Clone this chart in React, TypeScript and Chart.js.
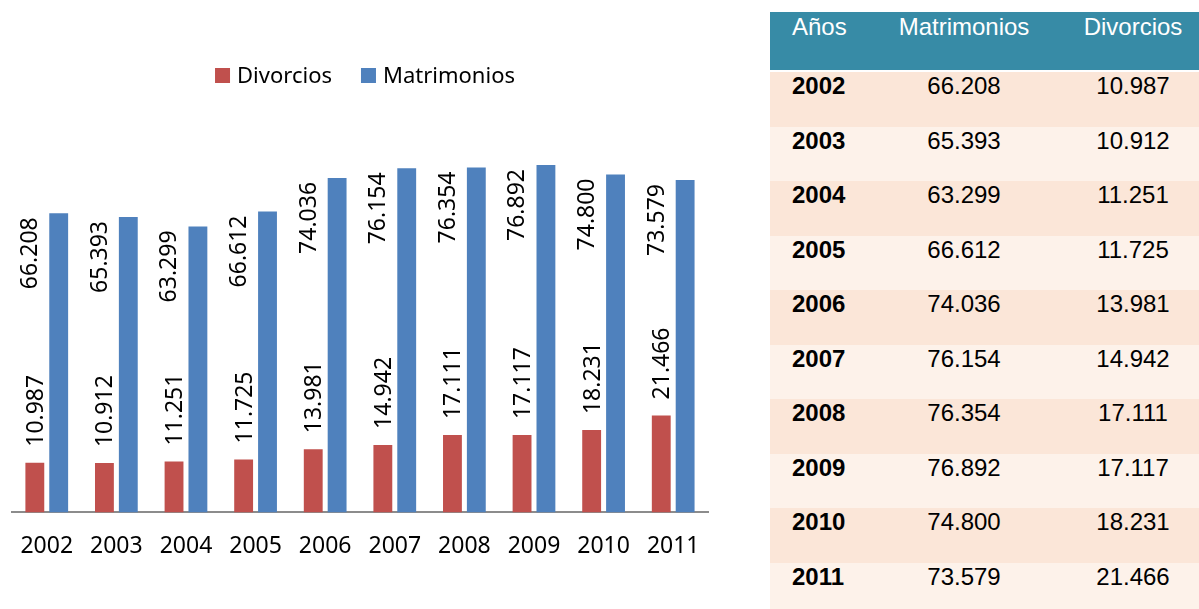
import React, { useEffect, useRef } from "react";
import { Chart, registerables } from "chart.js";

Chart.register(...registerables);

const years = ["2002", "2003", "2004", "2005", "2006", "2007", "2008", "2009", "2010", "2011"];
const divorcios = [10987, 10912, 11251, 11725, 13981, 14942, 17111, 17117, 18231, 21466];
const matrimonios = [66208, 65393, 63299, 66612, 74036, 76154, 76354, 76892, 74800, 73579];
const seriesNames = ["Divorcios", "Matrimonios"];
const seriesColors = ["#C0504D", "#4F81BD"];
const tableHeaders = ["Años", "Matrimonios", "Divorcios"];
const yMax = 80000;

const CHART_FONT = "'Noto Sans', 'Open Sans', sans-serif";
const TABLE_FONT = "'Liberation Sans', Arial, sans-serif";

function fmt(n: number): string {
  return String(n).replace(/\B(?=(\d{3})+(?!\d))/g, ".");
}

const barLabelPlugin = {
  id: "barLabels",
  afterDatasetsDraw(chart: any) {
    const ctx = chart.ctx;
    ctx.save();
    ctx.font = `23px ${CHART_FONT}`;
    ctx.fillStyle = "#000";
    ctx.textBaseline = "middle";
    chart.data.datasets.forEach((ds: any, di: number) => {
      const meta = chart.getDatasetMeta(di);
      meta.data.forEach((el: any, i: number) => {
        const text = fmt(ds.data[i]);
        ctx.save();
        if (di === 0) {
          ctx.translate(el.x + 1.5, el.y - 16);
          ctx.rotate(-Math.PI / 2);
          ctx.textAlign = "left";
        } else {
          ctx.translate(el.x - 28, el.y + 4);
          ctx.rotate(-Math.PI / 2);
          ctx.textAlign = "right";
        }
        ctx.fillText(text, 0, 0);
        ctx.restore();
      });
    });
    ctx.restore();
  },
};

const legendPlugin = {
  id: "customLegend",
  afterDraw(chart: any) {
    const ctx = chart.ctx;
    ctx.save();
    ctx.font = `22px ${CHART_FONT}`;
    ctx.textBaseline = "middle";
    ctx.textAlign = "left";
    const box = 15;
    const gapText = 7;
    const gapItem = 29;
    const items = chart.data.datasets.map((d: any) => ({
      label: d.label,
      color: d.backgroundColor,
      w: ctx.measureText(d.label).width,
    }));
    let total = 0;
    items.forEach((it: any, i: number) => {
      total += box + gapText + it.w + (i < items.length - 1 ? gapItem : 0);
    });
    const cx = 365;
    const cy = 75.5;
    let x = cx - total / 2;
    items.forEach((it: any) => {
      ctx.fillStyle = it.color;
      ctx.fillRect(x, cy - box / 2, box, box);
      ctx.fillStyle = "#000";
      ctx.fillText(it.label, x + box + gapText, cy + 1);
      x += box + gapText + it.w + gapItem;
    });
    ctx.restore();
  },
};

function BarChart() {
  const ref = useRef<HTMLCanvasElement | null>(null);
  useEffect(() => {
    if (!ref.current) return;
    const chart = new Chart(ref.current, {
      type: "bar",
      data: {
        labels: years,
        datasets: [
          {
            label: seriesNames[0],
            data: divorcios,
            backgroundColor: seriesColors[0],
            categoryPercentage: 0.686,
            barPercentage: 0.79,
          },
          {
            label: seriesNames[1],
            data: matrimonios,
            backgroundColor: seriesColors[1],
            categoryPercentage: 0.686,
            barPercentage: 0.79,
          },
        ],
      },
      options: {
        animation: false,
        responsive: false,
        maintainAspectRatio: false,
        layout: { padding: { left: 9, right: 22, top: 151, bottom: 29 } },
        plugins: {
          legend: { display: false },
          tooltip: { enabled: false },
        },
        scales: {
          x: {
            grid: { display: false, drawTicks: false },
            border: { display: true, color: "#8C8C8C", width: 2 },
            ticks: { color: "#000", font: { family: CHART_FONT, size: 23 }, padding: 20 },
          },
          y: { display: false, min: 0, max: yMax },
        },
      },
      plugins: [barLabelPlugin, legendPlugin],
    } as any);
    return () => chart.destroy();
  }, []);
  return (
    <canvas
      ref={ref}
      width={730}
      height={609}
      style={{ position: "absolute", left: 0, top: 0, width: 730, height: 609 }}
    />
  );
}

function DataTable() {
  const colLeft = [770, 870, 1058];
  const colWidth = [100, 188, 150];
  const rowTop = 72;
  const rowH = 54.5;
  const cell = (i: number, content: string, bold: boolean, color: string) => (
    <div
      key={i}
      style={{
        position: "absolute",
        left: colLeft[i],
        width: colWidth[i],
        top: 0,
        textAlign: i === 0 ? "left" : "center",
        paddingLeft: i === 0 ? 22 : 0,
        boxSizing: "border-box",
        fontWeight: bold ? "bold" : "normal",
        color,
        whiteSpace: "nowrap",
      }}
    >
      {content}
    </div>
  );
  return (
    <div style={{ fontFamily: TABLE_FONT, fontSize: 24, lineHeight: "normal" }}>
      <div
        style={{
          position: "absolute",
          left: 770,
          top: 12,
          width: 440,
          height: 58,
          background: "#378BA6",
        }}
      >
        <div style={{ position: "absolute", left: -770, top: 1 }}>
          {tableHeaders.map((h, i) => cell(i, h, false, "#FFFFFF"))}
        </div>
      </div>
      {years.map((y, r) => (
        <div
          key={y}
          style={{
            position: "absolute",
            left: 770,
            top: rowTop + r * rowH,
            width: 440,
            height: rowH,
            background: r % 2 === 0 ? "#FBE6D8" : "#FDF2EA",
          }}
        >
          <div style={{ position: "absolute", left: -770, top: 0 }}>
            {cell(0, y, true, "#000")}
            {cell(1, fmt(matrimonios[r]), false, "#000")}
            {cell(2, fmt(divorcios[r]), false, "#000")}
          </div>
        </div>
      ))}
    </div>
  );
}

export default function App() {
  return (
    <div
      style={{
        position: "absolute",
        left: 0,
        top: 0,
        width: 1199,
        height: 609,
        overflow: "hidden",
        background: "#FFFFFF",
      }}
    >
      <BarChart />
      <DataTable />
    </div>
  );
}
